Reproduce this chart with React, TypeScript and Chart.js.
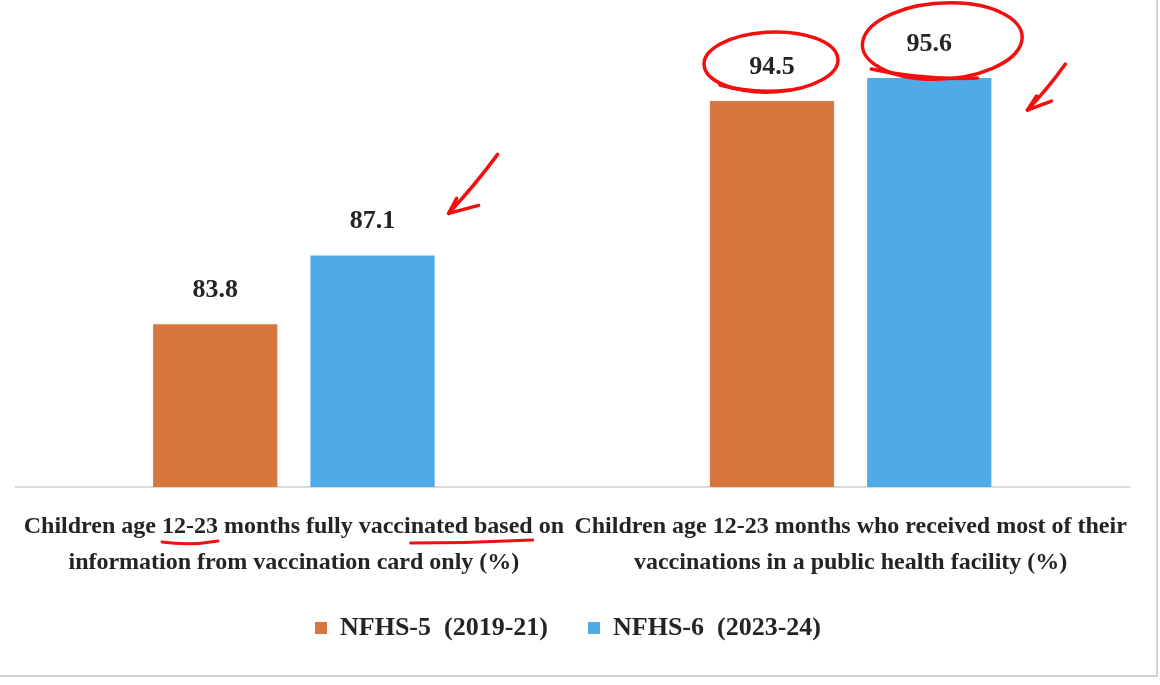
import React, { useEffect, useRef } from "react";
import { Chart, registerables } from "chart.js";

Chart.register(...registerables);

// ---------- data ----------
const categories: string[][] = [
  ["Children age 12-23 months fully vaccinated based on", "information from vaccination card only (%)"],
  ["Children age 12-23 months who received most of their", "vaccinations in a public health facility (%)"],
];
const seriesNames = ["NFHS-5  (2019-21)", "NFHS-6  (2023-24)"];
const nfhs5Values = [83.8, 94.5];
const nfhs6Values = [87.1, 95.6];
const seriesColors = ["#D7773F", "#4FAAE6"];
const yMin = 76;
const yMax = 98;

const FONT_FAMILY = "'Liberation Serif', 'Times New Roman', serif";
const TEXT_COLOR = "#242424";
const RED = "#F20F0F";

const backgroundPlugin = {
  id: "bgPlugin",
  beforeDraw(chart: any) {
    const { ctx, width, height } = chart;
    ctx.save();
    ctx.fillStyle = "#ffffff";
    ctx.fillRect(0, 0, width, height);
    ctx.restore();
  },
  afterDraw(chart: any) {
    const { ctx, width, height } = chart;
    ctx.save();
    ctx.strokeStyle = "#d2d2d2";
    ctx.lineWidth = 2;
    ctx.beginPath();
    ctx.moveTo(width - 3, 0);
    ctx.lineTo(width - 3, height - 9);
    ctx.lineTo(0, height - 9);
    ctx.stroke();
    ctx.restore();
  },
};

const valueLabelPlugin = {
  id: "valueLabels",
  afterDatasetsDraw(chart: any) {
    const { ctx } = chart;
    ctx.save();
    ctx.font = `bold 26px ${FONT_FAMILY}`;
    ctx.fillStyle = TEXT_COLOR;
    ctx.textAlign = "center";
    ctx.textBaseline = "middle";
    chart.data.datasets.forEach((ds: any, di: number) => {
      const meta = chart.getDatasetMeta(di);
      meta.data.forEach((el: any, i: number) => {
        ctx.fillText(ds.data[i].toFixed(1), el.x, el.y - 34);
      });
    });
    ctx.restore();
  },
};

function arrow(ctx: CanvasRenderingContext2D, x0: number, y0: number, x1: number, y1: number, h1: [number, number], h2: [number, number]) {
  ctx.beginPath();
  ctx.moveTo(x0, y0);
  ctx.quadraticCurveTo((x0 + x1) / 2 + 2, (y0 + y1) / 2 + 1, x1, y1);
  ctx.stroke();
  ctx.beginPath();
  ctx.moveTo(x1 + h1[0], y1 + h1[1]);
  ctx.lineTo(x1, y1);
  ctx.lineTo(x1 + h2[0], y1 + h2[1]);
  ctx.stroke();
}

const annotationPlugin = {
  id: "handAnnotations",
  afterDraw(chart: any) {
    const { ctx } = chart;
    const m0 = chart.getDatasetMeta(0);
    const m1 = chart.getDatasetMeta(1);
    ctx.save();
    ctx.strokeStyle = RED;
    ctx.lineWidth = 3.5;
    ctx.lineCap = "round";
    ctx.lineJoin = "round";

    // ellipse around 94.5
    const b = m0.data[1];
    ctx.beginPath();
    ctx.ellipse(b.x - 1, b.y - 39, 67, 30, -0.04, 2.3, 2.3 + Math.PI * 2 + 0.5);
    ctx.stroke();
    ctx.beginPath();
    ctx.moveTo(b.x - 52, b.y - 16);
    ctx.quadraticCurveTo(b.x - 20, b.y - 7, b.x + 18, b.y - 11);
    ctx.stroke();

    // ellipse around 95.6
    const c = m1.data[1];
    ctx.beginPath();
    ctx.ellipse(c.x + 13, c.y - 37, 80, 38, -0.06, 2.5, 2.5 + Math.PI * 2 + 0.45);
    ctx.stroke();
    ctx.beginPath();
    ctx.moveTo(c.x - 58, c.y - 9);
    ctx.quadraticCurveTo(c.x - 10, c.y + 2, c.x + 48, c.y);
    ctx.stroke();

    // arrow near 95.6
    const cr = c.x + c.width / 2;
    arrow(ctx, cr + 74, c.y - 14, cr + 36, c.y + 32, [9, -14], [24, -9]);

    // arrow near 87.1
    const a = m1.data[0];
    const ar = a.x + a.width / 2;
    arrow(ctx, ar + 63, a.y - 101, ar + 14, a.y - 42, [8, -15], [30, -8]);

    // underlines on first category label
    const xs = chart.scales.x;
    const cx = xs.getPixelForTick(0);
    ctx.font = `bold 24px ${FONT_FAMILY}`;
    const line1 = categories[0][0];
    const start = cx - ctx.measureText(line1).width / 2;
    const uy = xs.top + 55;
    const s1 = start + ctx.measureText("Children age ").width;
    const e1 = s1 + ctx.measureText("12-23").width;
    ctx.lineWidth = 3;
    ctx.beginPath();
    ctx.moveTo(s1, uy);
    ctx.quadraticCurveTo((s1 + e1) / 2, uy + 4, e1, uy - 1);
    ctx.stroke();
    const s2 = start + ctx.measureText("Children age 12-23 months fully vacci").width;
    const e2 = start + ctx.measureText("Children age 12-23 months fully vaccinated based").width;
    ctx.beginPath();
    ctx.moveTo(s2, uy + 1);
    ctx.quadraticCurveTo((s2 + e2) / 2, uy + 1, e2, uy - 2);
    ctx.stroke();
    ctx.restore();
  },
};

export default function App() {
  const canvasRef = useRef<HTMLCanvasElement | null>(null);

  useEffect(() => {
    if (!canvasRef.current) return;
    const chart = new Chart(canvasRef.current, {
      type: "bar",
      data: {
        labels: categories,
        datasets: [
          {
            label: seriesNames[0],
            data: nfhs5Values,
            backgroundColor: seriesColors[0],
            categoryPercentage: 0.565,
            barPercentage: 0.79,
          },
          {
            label: seriesNames[1],
            data: nfhs6Values,
            backgroundColor: seriesColors[1],
            categoryPercentage: 0.565,
            barPercentage: 0.79,
          },
        ],
      },
      options: {
        animation: false,
        responsive: true,
        maintainAspectRatio: false,
        layout: { padding: { top: 28, left: 7, right: 31, bottom: 34 } },
        scales: {
          x: {
            grid: { display: false, drawTicks: false },
            border: { display: true, color: "#d9d9d9", width: 2 },
            ticks: {
              padding: 22,
              color: TEXT_COLOR,
              font: { family: FONT_FAMILY, size: 24, weight: "bold", lineHeight: 1.5 },
              maxRotation: 0,
              autoSkip: false,
            },
            afterFit(scale: any) {
              scale.height = scale.height - 28;
            },
          },
          y: {
            display: false,
            min: yMin,
            max: yMax,
          },
        },
        plugins: {
          legend: {
            position: "bottom",
            labels: {
              boxWidth: 12,
              boxHeight: 12,
              padding: 40,
              color: TEXT_COLOR,
              font: { family: FONT_FAMILY, size: 26, weight: "bold" },
            },
          },
          tooltip: { enabled: false },
        },
      },
      plugins: [backgroundPlugin, valueLabelPlugin, annotationPlugin],
    });
    return () => chart.destroy();
  }, []);

  return (
    <div style={{ position: "absolute", left: 0, top: 0, width: 1160, height: 685, background: "#fff" }}>
      <canvas ref={canvasRef} />
    </div>
  );
}
